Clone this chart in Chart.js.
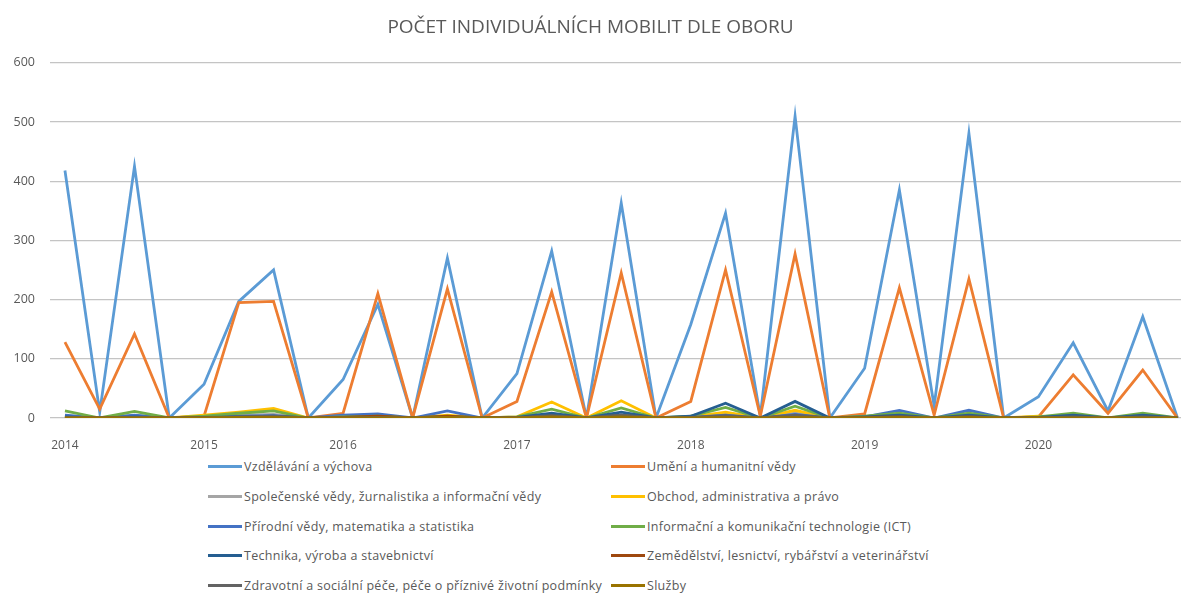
<!DOCTYPE html>
<html lang="cs">
<head>
<meta charset="utf-8">
<title>Počet individuálních mobilit dle oboru</title>
<script src="https://cdn.jsdelivr.net/npm/chart.js@4.4.1/dist/chart.umd.min.js"></script>
<style>
  html, body { margin: 0; padding: 0; background: #fff; }
  #wrap { position: relative; width: 1181px; height: 593px; overflow: hidden; }
  #chartBox { position: absolute; left: 0; top: 0; width: 1181px; height: 450px; }
  #legend {
    position: absolute; left: 208px; top: 452px;
    display: grid; grid-template-columns: 403px auto; grid-auto-rows: 29.7px;
    font-family: 'Open Sans', sans-serif; font-size: 12.5px; letter-spacing: 0.3px; color: #595959;
  }
  .item { display: flex; align-items: center; white-space: nowrap; }
  .swatch { display: inline-block; width: 34px; height: 3px; margin-right: 2px; }
</style>
</head>
<body>
<div id="wrap">
  <div id="chartBox"><canvas id="mobilityChart"></canvas></div>
  <div id="legend"></div>
</div>
<script>
/* data */

// one tick label per year, placed at the first period of that year
const YEAR_LABELS = ['2014', '2015', '2016', '2017', '2018', '2019', '2020'];
const YEAR_START  = [0, 4, 8, 13, 18, 23, 28];

const SERIES_NAMES = [
  'Vzdělávání a výchova',
  'Umění a humanitní vědy',
  'Společenské vědy, žurnalistika a informační vědy',
  'Obchod, administrativa a právo',
  'Přírodní vědy, matematika a statistika',
  'Informační a komunikační technologie (ICT)',
  'Technika, výroba a stavebnictví',
  'Zemědělství, lesnictví, rybářství a veterinářství',
  'Zdravotní a sociální péče, péče o příznivé životní podmínky',
  'Služby'
];

const SERIES_COLORS = [
  '#5B9BD5', '#ED7D31', '#A5A5A5', '#FFC000', '#4472C4',
  '#70AD47', '#255E91', '#9E480E', '#636363', '#997300'
];

const vzdelavani   = [418, 10, 425, 0, 57, 197, 250, 0, 65, 192, 0, 270, 0, 75, 282, 0, 363, 0, 158, 346, 3, 510, 0, 84, 385, 20, 481, 0, 36, 127, 12, 171, 0];
const umeni        = [128, 15, 142, 0, 3, 195, 197, 0, 8, 210, 0, 218, 0, 28, 213, 0, 245, 0, 28, 250, 3, 277, 0, 7, 220, 5, 235, 0, 2, 73, 8, 81, 0];
const spolecenske  = [3, 0, 4, 0, 2, 5, 6, 0, 1, 2, 0, 2, 0, 1, 6, 0, 5, 0, 1, 6, 0, 8, 0, 1, 3, 0, 3, 0, 1, 2, 0, 2, 0];
const obchod       = [2, 0, 2, 0, 5, 10, 16, 0, 1, 2, 0, 5, 0, 2, 27, 0, 29, 0, 2, 10, 0, 13, 0, 2, 3, 0, 2, 0, 3, 1, 0, 1, 0];
const prirodni     = [5, 0, 5, 0, 1, 3, 4, 0, 5, 7, 0, 12, 0, 1, 5, 0, 5, 0, 1, 5, 0, 6, 0, 2, 13, 0, 13, 0, 1, 3, 0, 3, 0];
const ict          = [12, 0, 11, 0, 3, 8, 12, 0, 2, 3, 0, 3, 0, 2, 15, 0, 17, 0, 3, 18, 0, 20, 0, 3, 8, 0, 8, 0, 2, 8, 0, 8, 0];
const technika     = [2, 0, 2, 0, 1, 2, 3, 0, 1, 2, 0, 2, 0, 1, 8, 0, 10, 0, 3, 25, 0, 28, 0, 2, 5, 0, 5, 0, 1, 5, 0, 5, 0];
const zemedelstvi  = [1, 0, 1, 0, 0, 1, 1, 0, 1, 3, 0, 3, 0, 0, 3, 0, 4, 0, 0, 2, 0, 3, 0, 1, 2, 0, 2, 0, 0, 1, 0, 1, 0];
const zdravotni    = [1, 0, 1, 0, 0, 2, 3, 0, 0, 1, 0, 1, 0, 0, 4, 0, 5, 0, 1, 4, 0, 5, 0, 0, 2, 0, 2, 0, 0, 2, 0, 2, 0];
const sluzby       = [0, 0, 0, 0, 0, 1, 1, 0, 0, 0, 0, 1, 0, 0, 2, 0, 2, 0, 0, 1, 0, 1, 0, 0, 1, 0, 1, 0, 0, 0, 0, 0, 0];

const SERIES_VALUES = [vzdelavani, umeni, spolecenske, obchod, prirodni, ict, technika, zemedelstvi, zdravotni, sluzby];

const TEXT_COLOR = '#595959';
const FONT = "'Open Sans', sans-serif";

const datasets = SERIES_VALUES.map((vals, i) => ({
  label: SERIES_NAMES[i],
  data: vals.map((v, idx) => ({ x: idx, y: v })),
  borderColor: SERIES_COLORS[i],
  backgroundColor: SERIES_COLORS[i],
  borderWidth: 2.8,
  pointRadius: 0,
  tension: 0,
  fill: false,
  // Excel paints later series on top
  order: SERIES_VALUES.length - i,
}));

const ctx = document.getElementById('mobilityChart').getContext('2d');
new Chart(ctx, {
  type: 'line',
  data: { datasets },
  options: {
    responsive: true,
    maintainAspectRatio: false,
    animation: false,
    layout: { padding: { top: 5, right: 0, bottom: 0, left: 0 } },
    plugins: {
      legend: { display: false },
      tooltip: { enabled: false },
      title: {
        display: true,
        text: 'POČET INDIVIDUÁLNÍCH MOBILIT DLE OBORU',
        color: TEXT_COLOR,
        font: { family: FONT, size: 19, weight: 'normal' },
        padding: { top: 11, bottom: 24 }
      }
    },
    scales: {
      x: {
        type: 'linear',
        min: -0.43,
        max: 32.1,
        grid: { display: false },
        border: { display: false },
        afterBuildTicks: scale => {
          scale.ticks = YEAR_START.map(v => ({ value: v }));
        },
        afterFit: scale => { scale.height = 32; },
        ticks: {
          autoSkip: false,
          maxRotation: 0,
          padding: 12,
          color: TEXT_COLOR,
          font: { family: FONT, size: 12 },
          callback: v => YEAR_LABELS[YEAR_START.indexOf(v)] ?? ''
        }
      },
      y: {
        min: 0,
        max: 600,
        grid: { color: '#c4c4c4', lineWidth: 1.3, drawTicks: false },
        border: { display: false },
        afterFit: scale => { scale.width = 50; },
        ticks: {
          stepSize: 100,
          padding: 15,
          color: TEXT_COLOR,
          font: { family: FONT, size: 12.5 }
        }
      }
    }
  }
});

// legend: two columns, series in row order like the original
const legendEl = document.getElementById('legend');
SERIES_NAMES.forEach((name, i) => {
  const item = document.createElement('div');
  item.className = 'item';
  const sw = document.createElement('span');
  sw.className = 'swatch';
  sw.style.background = SERIES_COLORS[i];
  const txt = document.createElement('span');
  txt.textContent = name;
  item.appendChild(sw);
  item.appendChild(txt);
  legendEl.appendChild(item);
});
</script>
</body>
</html>
